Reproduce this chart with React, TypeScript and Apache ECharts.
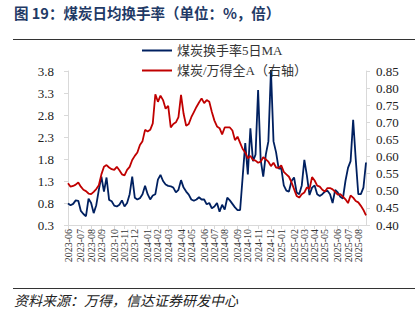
import React, { useEffect, useRef } from "react";
import * as echarts from "echarts";

// weekly sampling, first week of 2023-06 to 2025-08-22
const startDate = "2023-06-02";
const weekCount = 117;

const turnoverMA5: number[] = [
  0.79, 0.75, 0.78, 0.86, 0.85, 0.62, 0.55, 0.50, 0.90, 0.80,
  0.57, 0.75, 1.10, 1.40, 1.06, 1.38, 0.87, 0.84, 0.74, 0.72,
  0.76, 0.86, 0.72, 0.80, 1.00, 1.40, 0.92, 0.88, 0.91, 1.00,
  1.19, 1.00, 0.88, 0.97, 1.00, 1.33, 1.44, 1.30, 1.22, 1.19,
  1.18, 1.15, 1.04, 1.10, 1.32, 1.15, 1.06, 0.99, 0.88, 0.85,
  0.88, 0.93, 0.88, 0.88, 0.77, 0.80, 0.68, 0.72, 0.80, 0.60,
  0.76, 0.65, 0.92, 0.86, 0.78, 0.70, 0.64, 0.64, 1.40, 2.16,
  1.45, 2.50, 1.75, 1.90, 3.37, 1.78, 1.40, 1.90, 2.20, 3.82,
  2.20, 1.95, 1.58, 1.60, 1.20, 1.08, 1.06, 1.30, 1.38, 1.04,
  1.00, 1.20, 1.78, 1.42, 0.98, 1.15, 1.20, 1.00, 0.96, 1.00,
  1.06, 1.08, 1.00, 0.80, 1.10, 1.04, 0.94, 0.90, 1.30, 1.60,
  1.75, 2.69, 1.80, 1.00, 1.00, 1.15, 1.72,
];

const ratioToWindA: number[] = [
  0.522, 0.512, 0.514, 0.518, 0.524, 0.512, 0.503, 0.499, 0.492, 0.490,
  0.497, 0.505, 0.516, 0.548, 0.570, 0.575, 0.568, 0.563, 0.561, 0.570,
  0.560, 0.548, 0.545, 0.561, 0.570, 0.590, 0.602, 0.612, 0.634, 0.645,
  0.678, 0.673, 0.678, 0.697, 0.782, 0.760, 0.778, 0.765, 0.740, 0.748,
  0.685, 0.695, 0.700, 0.715, 0.780, 0.725, 0.690, 0.695, 0.715, 0.730,
  0.745, 0.758, 0.770, 0.756, 0.765, 0.760, 0.730, 0.705, 0.688, 0.683,
  0.665, 0.685, 0.685, 0.685, 0.676, 0.648, 0.658, 0.640, 0.622, 0.612,
  0.595, 0.602, 0.590, 0.588, 0.582, 0.585, 0.598, 0.592, 0.585, 0.572,
  0.582, 0.568, 0.567, 0.574, 0.555, 0.548, 0.541, 0.525, 0.505, 0.485,
  0.480, 0.490, 0.495, 0.510, 0.505, 0.540, 0.530, 0.515, 0.512, 0.503,
  0.498, 0.508, 0.508, 0.504, 0.497, 0.489, 0.490, 0.483, 0.475, 0.464,
  0.486, 0.480, 0.470, 0.466, 0.456, 0.444, 0.428,
];

const seriesNames = ["煤炭换手率5日MA", "煤炭/万得全A（右轴）"];
const titleText = "图 19：煤炭日均换手率（单位：%，倍）";
const sourceText = "资料来源：万得，信达证券研发中心";

function buildDates(): string[] {
  const out: string[] = [];
  const t0 = Date.parse(startDate + "T00:00:00Z");
  for (let i = 0; i < weekCount; i++) {
    const d = new Date(t0 + i * 7 * 86400000);
    const y = d.getUTCFullYear();
    const m = String(d.getUTCMonth() + 1).padStart(2, "0");
    const day = String(d.getUTCDate()).padStart(2, "0");
    out.push(`${y}-${m}-${day}`);
  }
  return out;
}

const categories = buildDates();

const isMonthStart = (idx: number) =>
  idx === 0 || categories[idx].slice(0, 7) !== categories[idx - 1].slice(0, 7);

const serif = "'Liberation Serif', 'Times New Roman', 'Noto Sans CJK SC', serif";

export default function App() {
  const ref = useRef<HTMLDivElement>(null);
  useEffect(() => {
    if (!ref.current) return;
    const chart = echarts.init(ref.current, undefined, { renderer: "svg" });
    chart.setOption({
      animation: false,
      backgroundColor: "#ffffff",
      grid: { left: 68, right: 54, top: 71, bottom: 96, containLabel: false },
      legend: {
        orient: "vertical",
        left: 142,
        top: 44,
        padding: 0,
        itemWidth: 30,
        itemHeight: 10,
        itemGap: 7,
        icon: "path://M0,4 L30,4 L30,6 L0,6 Z",
        data: seriesNames,
        textStyle: { fontFamily: serif, fontSize: 13, color: "#333" },
      },
      xAxis: {
        type: "category",
        data: categories,
        boundaryGap: false,
        axisLine: { lineStyle: { color: "#d9d9d9", width: 1 } },
        axisTick: {
          show: true,
          interval: (idx: number) => isMonthStart(idx),
          length: 4,
          lineStyle: { color: "#d9d9d9" },
        },
        axisLabel: {
          interval: (idx: number) => isMonthStart(idx),
          rotate: 90,
          fontFamily: serif,
          fontSize: 10,
          color: "#333",
          margin: 4,
          formatter: (v: string) => v.slice(0, 7),
        },
        splitLine: { show: false },
      },
      yAxis: [
        {
          type: "value",
          min: 0.3,
          max: 3.8,
          interval: 0.5,
          axisLine: { show: true, lineStyle: { color: "#d9d9d9" } },
          axisTick: { show: true, length: 4, lineStyle: { color: "#d9d9d9" } },
          axisLabel: {
            fontFamily: serif,
            fontSize: 13,
            color: "#222",
            margin: 14,
            formatter: (v: number) => v.toFixed(1),
          },
          splitLine: { show: false },
        },
        {
          type: "value",
          min: 0.4,
          max: 0.85,
          interval: 0.05,
          position: "right",
          axisLine: { show: true, lineStyle: { color: "#d9d9d9" } },
          axisTick: { show: true, length: 4, lineStyle: { color: "#d9d9d9" } },
          axisLabel: {
            fontFamily: serif,
            fontSize: 13,
            color: "#222",
            margin: 10,
            formatter: (v: number) => v.toFixed(2),
          },
          splitLine: { show: false },
        },
      ],
      series: [
        {
          name: seriesNames[0],
          type: "line",
          yAxisIndex: 0,
          data: turnoverMA5,
          symbol: "none",
          lineStyle: { color: "#002060", width: 1.8 },
          itemStyle: { color: "#002060" },
        },
        {
          name: seriesNames[1],
          type: "line",
          yAxisIndex: 1,
          data: ratioToWindA,
          symbol: "none",
          lineStyle: { color: "#C00000", width: 1.8 },
          itemStyle: { color: "#C00000" },
        },
      ],
      graphic: [
        {
          type: "text",
          left: 14,
          top: 5,
          style: {
            text: titleText,
            fontSize: 14.5,
            fontWeight: "bold",
            fontFamily: "'Noto Sans CJK SC', sans-serif",
            fill: "#1f3a66",
          },
        },
        {
          type: "line",
          shape: { x1: 13, y1: 39.5, x2: 415, y2: 39.5 },
          style: { stroke: "#333", lineWidth: 1 },
        },
        {
          type: "line",
          shape: { x1: 13, y1: 288.5, x2: 415, y2: 288.5 },
          style: { stroke: "#333", lineWidth: 1 },
        },
        {
          type: "text",
          left: 14,
          top: 293,
          style: {
            text: sourceText,
            fontSize: 14,
            fontStyle: "italic",
            fontFamily: "'Noto Sans CJK SC', serif",
            fill: "#222",
          },
        },
      ],
    });
    return () => chart.dispose();
  }, []);
  return (
    <div
      ref={ref}
      style={{ position: "fixed", left: 0, top: 0, width: 420, height: 321, background: "#fff" }}
    />
  );
}
